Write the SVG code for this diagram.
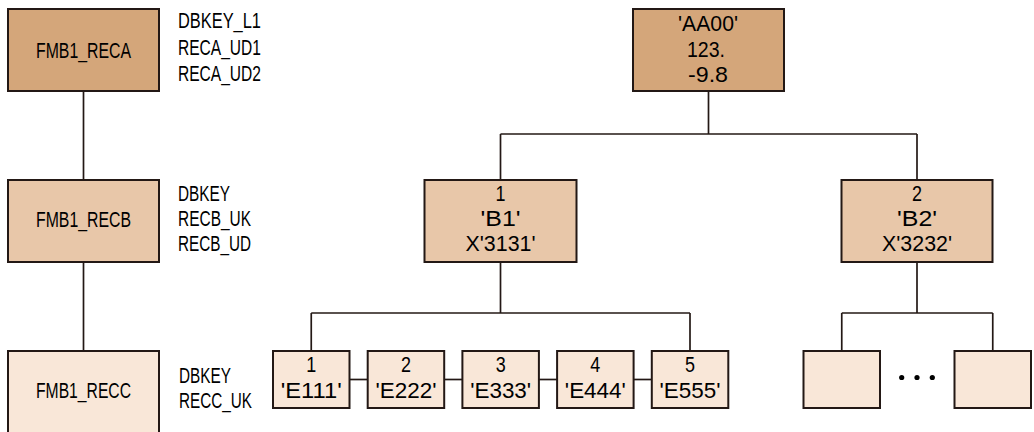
<svg xmlns="http://www.w3.org/2000/svg" width="1034" height="432" viewBox="0 0 1034 432">
<style>
.b{stroke:#231815;stroke-width:2}
.l1{fill:#D4A67A}.l2{fill:#E8C7A9}.l3{fill:#F9E7D8}
text{font-family:"Liberation Sans",Arial,sans-serif;font-size:22px;fill:#000}
.c{text-anchor:middle}
#connectors line{stroke:#231815;stroke-width:1.7;fill:none}
</style>
<rect width="1034" height="432" fill="#fff"/>
<g id="connectors">
<line x1="83.5" y1="91" x2="83.5" y2="180"/>
<line x1="83.5" y1="262" x2="83.5" y2="351"/>
<line x1="708.5" y1="91" x2="708.5" y2="134"/>
<line x1="500.5" y1="134" x2="917" y2="134"/>
<line x1="500.5" y1="134" x2="500.5" y2="180"/>
<line x1="917" y1="134" x2="917" y2="180"/>
<line x1="500.5" y1="262" x2="500.5" y2="313"/>
<line x1="311.25" y1="313" x2="690" y2="313"/>
<line x1="311.25" y1="313" x2="311.25" y2="351"/>
<line x1="690" y1="313" x2="690" y2="351"/>
<line x1="349.5" y1="379.5" x2="367.7" y2="379.5"/>
<line x1="444.2" y1="379.5" x2="462.4" y2="379.5"/>
<line x1="538.9" y1="379.5" x2="557.1" y2="379.5"/>
<line x1="633.6" y1="379.5" x2="651.8" y2="379.5"/>
<line x1="917" y1="262" x2="917" y2="313"/>
<line x1="841.75" y1="313" x2="992.75" y2="313"/>
<line x1="841.75" y1="313" x2="841.75" y2="351"/>
<line x1="992.75" y1="313" x2="992.75" y2="351"/>
</g>
<g id="FMB1_RECA">
<rect class="b l1" x="8" y="9" width="151" height="82"/>
<text class="c" x="83.5" y="57.5" textLength="95" lengthAdjust="spacingAndGlyphs">FMB1_RECA</text>
<text x="178" y="27.5" textLength="83" lengthAdjust="spacingAndGlyphs">DBKEY_L1</text>
<text x="178" y="54.5" textLength="83" lengthAdjust="spacingAndGlyphs">RECA_UD1</text>
<text x="178" y="80.5" textLength="83" lengthAdjust="spacingAndGlyphs">RECA_UD2</text>
</g>
<g id="FMB1_RECB">
<rect class="b l2" x="8" y="180" width="151" height="82"/>
<text class="c" x="83.5" y="227" textLength="95" lengthAdjust="spacingAndGlyphs">FMB1_RECB</text>
<text x="178" y="201" textLength="52" lengthAdjust="spacingAndGlyphs">DBKEY</text>
<text x="178" y="225.5" textLength="73" lengthAdjust="spacingAndGlyphs">RECB_UK</text>
<text x="178" y="250.5" textLength="73" lengthAdjust="spacingAndGlyphs">RECB_UD</text>
</g>
<g id="FMB1_RECC">
<rect class="b l3" x="8" y="351" width="151" height="82"/>
<text class="c" x="83.5" y="398" textLength="95" lengthAdjust="spacingAndGlyphs">FMB1_RECC</text>
<text x="179" y="382.5" textLength="52" lengthAdjust="spacingAndGlyphs">DBKEY</text>
<text x="179" y="408" textLength="73" lengthAdjust="spacingAndGlyphs">RECC_UK</text>
</g>
<g id="rootA">
<rect class="b l1" x="633" y="9" width="151" height="82"/>
<text class="c" x="708" y="31" textLength="60" lengthAdjust="spacingAndGlyphs">'AA00'</text>
<text class="c" x="706" y="57" textLength="38" lengthAdjust="spacingAndGlyphs">123.</text>
<text class="c" x="708" y="82" textLength="40" lengthAdjust="spacingAndGlyphs">-9.8</text>
</g>
<g id="B1">
<rect class="b l2" x="424.5" y="180" width="152" height="82"/>
<text class="c" x="500.5" y="201" textLength="10" lengthAdjust="spacingAndGlyphs">1</text>
<text class="c" x="500.5" y="225.5" textLength="40" lengthAdjust="spacingAndGlyphs">'B1'</text>
<text class="c" x="500.5" y="251" textLength="70" lengthAdjust="spacingAndGlyphs">X'3131'</text>
</g>
<g id="B2">
<rect class="b l2" x="841.5" y="180" width="151" height="82"/>
<text class="c" x="917" y="201" textLength="10" lengthAdjust="spacingAndGlyphs">2</text>
<text class="c" x="917" y="225.5" textLength="40" lengthAdjust="spacingAndGlyphs">'B2'</text>
<text class="c" x="917" y="251" textLength="70" lengthAdjust="spacingAndGlyphs">X'3232'</text>
</g>
<g id="E1">
<rect class="b l3" x="273" y="351" width="76.5" height="57"/>
<text class="c" x="311.25" y="372" textLength="10" lengthAdjust="spacingAndGlyphs">1</text>
<text class="c" x="311.25" y="398" textLength="61" lengthAdjust="spacingAndGlyphs">'E111'</text>
</g>
<g id="E2">
<rect class="b l3" x="367.7" y="351" width="76.5" height="57"/>
<text class="c" x="405.95" y="372" textLength="10" lengthAdjust="spacingAndGlyphs">2</text>
<text class="c" x="405.95" y="398" textLength="61" lengthAdjust="spacingAndGlyphs">'E222'</text>
</g>
<g id="E3">
<rect class="b l3" x="462.4" y="351" width="76.5" height="57"/>
<text class="c" x="500.65" y="372" textLength="10" lengthAdjust="spacingAndGlyphs">3</text>
<text class="c" x="500.65" y="398" textLength="61" lengthAdjust="spacingAndGlyphs">'E333'</text>
</g>
<g id="E4">
<rect class="b l3" x="557.1" y="351" width="76.5" height="57"/>
<text class="c" x="595.35" y="372" textLength="10" lengthAdjust="spacingAndGlyphs">4</text>
<text class="c" x="595.35" y="398" textLength="61" lengthAdjust="spacingAndGlyphs">'E444'</text>
</g>
<g id="E5">
<rect class="b l3" x="651.8" y="351" width="76.5" height="57"/>
<text class="c" x="690.05" y="372" textLength="10" lengthAdjust="spacingAndGlyphs">5</text>
<text class="c" x="690.05" y="398" textLength="61" lengthAdjust="spacingAndGlyphs">'E555'</text>
</g>
<g id="F1">
<rect class="b l3" x="803.5" y="351" width="76.5" height="57"/>
</g>
<g id="ellipsis">
<circle cx="901.7" cy="377.5" r="2.6" fill="#000"/>
<circle cx="917" cy="377.5" r="2.6" fill="#000"/>
<circle cx="932.3" cy="377.5" r="2.6" fill="#000"/>
</g>
<g id="F2">
<rect class="b l3" x="954.5" y="351" width="76.5" height="57"/>
</g>
</svg>
